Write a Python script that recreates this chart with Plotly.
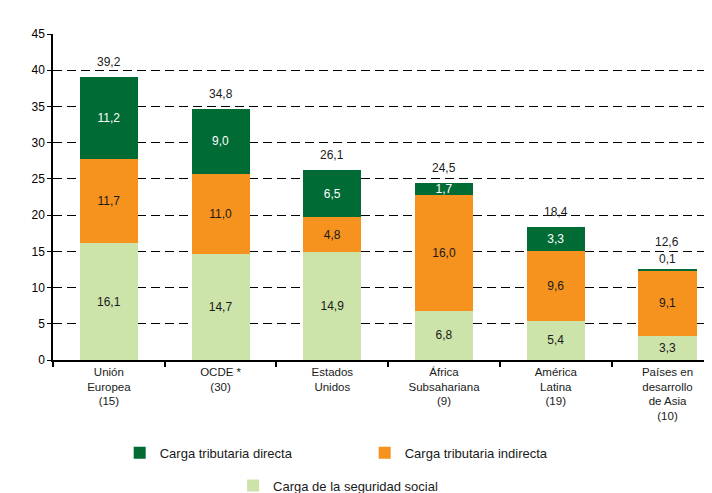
import plotly.graph_objects as go

categories = ["Unión<br>Europea<br>(15)", "OCDE *<br>(30)", "Estados<br>Unidos",
              "África<br>Subsahariana<br>(9)", "América<br>Latina<br>(19)",
              "Países en<br>desarrollo<br>de Asia<br>(10)"]
seguridad_social = [16.1, 14.7, 14.9, 6.8, 5.4, 3.3]
indirecta = [11.7, 11.0, 4.8, 16.0, 9.6, 9.1]
directa = [11.2, 9.0, 6.5, 1.7, 3.3, 0.1]
totales = [39.2, 34.8, 26.1, 24.5, 18.4, 12.6]
y_ticks = [0, 5, 10, 15, 20, 25, 30, 35, 40, 45]

C_DARK = "#006B35"
C_ORANGE = "#F6921E"
C_LIGHT = "#CCE3AA"
FONT = "Liberation Sans"
TXT = "#1a1a1a"

fig = go.Figure()
fig.add_trace(go.Bar(
    x=categories, y=seguridad_social, name="Carga de la seguridad social",
    marker=dict(color=C_LIGHT, line=dict(width=0)), legend="legend2",
    texttemplate="%{y:.1f}", textposition="inside", insidetextanchor="middle",
    textfont=dict(family=FONT, size=12, color=TXT)))
fig.add_trace(go.Bar(
    x=categories, y=indirecta, name="Carga tributaria indirecta",
    marker=dict(color=C_ORANGE, line=dict(width=0)), legend="legend",
    texttemplate="%{y:.1f}", textposition="inside", insidetextanchor="middle",
    textfont=dict(family=FONT, size=12, color=TXT)))
fig.add_trace(go.Bar(
    x=categories, y=directa, name="Carga tributaria directa",
    marker=dict(color=C_DARK, line=dict(width=0)), legend="legend",
    texttemplate="%{y:.1f}",
    textposition=["inside" if v >= 1 else "outside" for v in directa],
    insidetextanchor="middle", cliponaxis=False,
    insidetextfont=dict(family=FONT, size=12, color="white"),
    outsidetextfont=dict(family=FONT, size=12, color=TXT)))

stack_tops = [a + b + c for a, b, c in zip(seguridad_social, indirecta, directa)]
for cat, top, tot, d in zip(categories, stack_tops, totales, directa):
    fig.add_annotation(x=cat, y=top, text=f"{tot:.1f}".replace(".", ","),
                       showarrow=False, yanchor="bottom",
                       yshift=18 if d < 1 else 6,
                       font=dict(family=FONT, size=12, color=TXT))

fig.update_layout(
    barmode="stack", bargap=0.48, separators=",.",
    width=712, height=493,
    margin=dict(l=45, r=0, t=26, b=138),
    paper_bgcolor="white", plot_bgcolor="white",
    font=dict(family=FONT, size=12, color=TXT),
    uniformtext=dict(minsize=11, mode="show"),
    showlegend=True,
    legend=dict(orientation="h", x=0.1, xanchor="left", y=-0.285, yanchor="middle",
                traceorder="reversed", entrywidth=200,
                font=dict(family=FONT, size=13, color=TXT)),
    legend2=dict(orientation="h", x=0.27, xanchor="left", y=-0.385, yanchor="middle",
                 font=dict(family=FONT, size=13, color=TXT)),
)
fig.update_xaxes(type="category", range=[-0.5, 5.47], showline=True, linecolor="black",
                 linewidth=1.5, ticks="outside", tickson="boundaries", ticklen=5,
                 tickcolor="black", tickwidth=1.5, showgrid=False,
                 tickfont=dict(family=FONT, size=11.5, color=TXT))
fig.update_yaxes(range=[0, 45], tickvals=y_ticks, showline=True, linecolor="black",
                 linewidth=1.5, ticks="outside", ticklen=4, tickcolor="black",
                 showgrid=True, gridcolor="black", griddash="9px,5px", gridwidth=1.4,
                 zeroline=False, tickfont=dict(family=FONT, size=12, color="black"))

fig.write_html("out.html")
